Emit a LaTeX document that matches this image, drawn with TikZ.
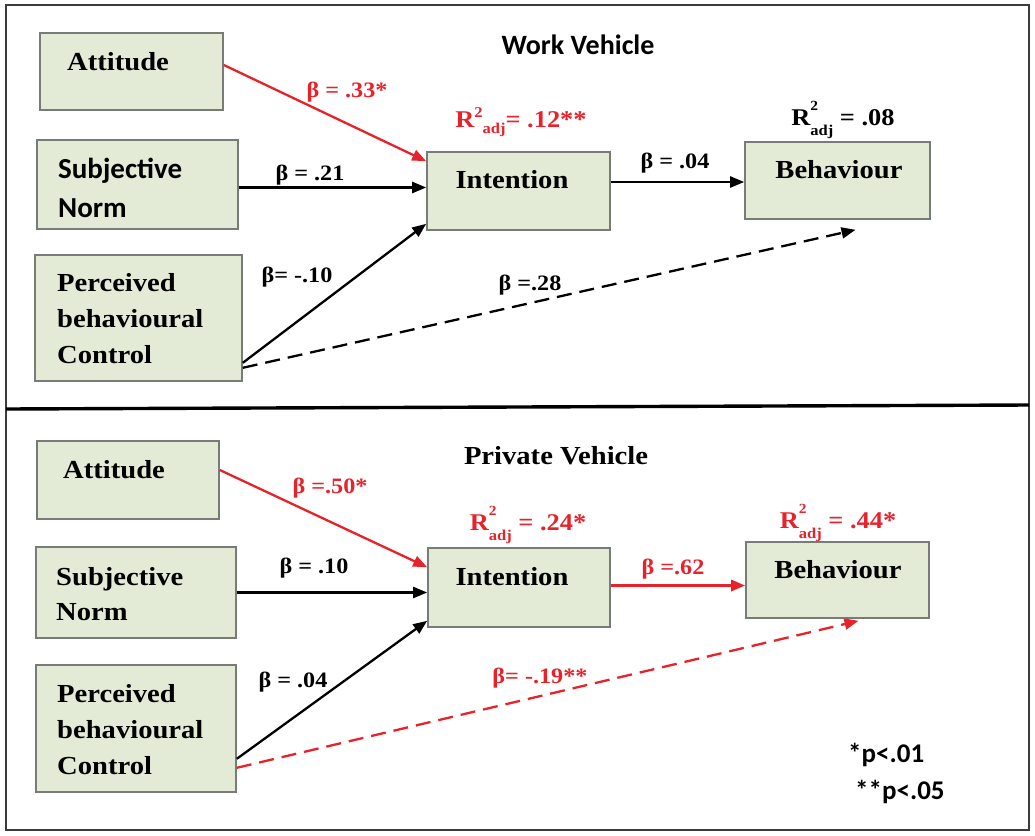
\documentclass[tikz,border=0pt]{standalone}
\usepackage{fontspec}
\setmainfont{Liberation Serif}[FakeStretch=1.1]
\newfontfamily\calib{Carlito}
\usetikzlibrary{arrows.meta,calc}
\definecolor{boxfill}{RGB}{227,235,215}
\definecolor{boxgray}{RGB}{120,124,118}
\definecolor{myred}{RGB}{232,34,42}
\definecolor{framegray}{RGB}{60,60,60}
\newcommand{\rsup}{\raisebox{0.62em}{\fontsize{14}{14}\selectfont 2}}
\newcommand{\rsupl}{\raisebox{0.42em}{\fontsize{15}{15}\selectfont 2}}
\newcommand{\rsub}{\raisebox{-0.42em}{\fontsize{15}{15}\selectfont adj}}
\newcommand{\rsubl}{\raisebox{-0.25em}{\fontsize{15}{15}\selectfont adj}}
\tikzset{
  box/.style={draw=boxgray, fill=boxfill, line width=1.6pt, rectangle, inner sep=0pt},
  boxtxt/.style={font=\fontsize{26}{36}\selectfont\bfseries, align=left, inner sep=0pt},
  sanstxt/.style={font=\calib\fontsize{29}{39}\selectfont\bfseries, align=left, inner sep=0pt},
  lbl/.style={font=\fontsize{22}{24}\selectfont\bfseries, inner sep=0pt},
  rlbl/.style={font=\fontsize{24}{26}\selectfont\bfseries, inner sep=0pt},
  conn/.style={line width=2.3pt, -{Triangle[length=14pt,width=11pt]}},
  rconn/.style={conn, draw=myred},
  dashconn/.style={conn, dash pattern=on 15pt off 8pt},
}
\begin{document}
\begin{tikzpicture}[x=1pt,y=-1pt]
\useasboundingbox (0,0) rectangle (1035,835);
\fill[white] (0,0) rectangle (1035,835);
% frame
\draw[framegray, line width=1.8pt] (6,5) rectangle (1029,830);
\draw[black, line width=3.4pt] (6,409) -- (1029,405);

% ---------- Work Vehicle ----------
\node[sanstxt, font=\calib\fontsize{28}{30}\selectfont\bfseries] (t1) at (578,45) {Work Vehicle};

\node[box, minimum width=183, minimum height=77] (att1) at (131.5,71.5) {};
\node[boxtxt, anchor=west] (att1t) at (67,62) {Attitude};
\node[box, minimum width=201, minimum height=89] (sn1) at (137.5,184.5) {};
\node[sanstxt, anchor=west] (sn1t) at (58,187.5) {Subjective\\Norm};
\node[box, minimum width=207, minimum height=126] (pbc1) at (138.5,318) {};
\node[boxtxt, anchor=west] (pbc1t) at (57,319) {Perceived\\behavioural\\Control};
\node[box, minimum width=183, minimum height=78] (int1) at (518.5,191) {};
\node[boxtxt] (int1t) at (512,180) {Intention};
\node[box, minimum width=185, minimum height=77] (beh1) at (837.5,180.5) {};
\node[boxtxt] (beh1t) at (839,170) {Behaviour};

\draw[rconn] ([yshift=6.5]att1.east) -- ([yshift=-10]int1.north west);
\draw[conn] ([yshift=-3]sn1.east) -- ([yshift=-3]sn1.east -| int1.west);
\draw[conn] ([yshift=19]pbc1.south east) -- ([yshift=7]int1.south west);
\draw[dashconn] ([yshift=14]pbc1.south east) -- ([xshift=18,yshift=-10]beh1.south);
\draw[conn] ([yshift=9]int1.east) -- ([yshift=9]int1.east -| beh1.west);

\node[lbl, text=myred] (b1) at (347,92) {β = .33*};
\node[lbl] (b2) at (310,175) {β = .21};
\node[lbl] (b3) at (297,277) {β= -.10};
\node[lbl] (b4) at (530,285) {β =.28};
\node[lbl] (b5) at (675,163) {β = .04};
\node[rlbl, text=myred] (r1) at (521,122) {R\rsupl\rsubl= .12**};
\node[rlbl] (r2) at (843,120) {R\rlap{\rsup}\rsub\ = .08};

% ---------- Private Vehicle ----------
\node[boxtxt] (t2) at (556,456) {Private Vehicle};

\node[box, minimum width=182, minimum height=78] (att2) at (128,480) {};
\node[boxtxt, anchor=west] (att2t) at (63,470) {Attitude};
\node[box, minimum width=200, minimum height=91] (sn2) at (136,592.5) {};
\node[boxtxt, anchor=west, font=\fontsize{26}{35}\selectfont\bfseries] (sn2t) at (56,594.5) {Subjective\\Norm};
\node[box, minimum width=200, minimum height=127] (pbc2) at (136,728.5) {};
\node[boxtxt, anchor=west] (pbc2t) at (57,730) {Perceived\\behavioural\\Control};
\node[box, minimum width=182, minimum height=79] (int2) at (519,587.5) {};
\node[boxtxt] (int2t) at (512,577) {Intention};
\node[box, minimum width=183, minimum height=76] (beh2) at (837.5,580) {};
\node[boxtxt] (beh2t) at (838,570) {Behaviour};

\draw[rconn] ([yshift=10]att2.east) -- ([yshift=-20]int2.north west);
\draw[conn] (sn2.east) -- (sn2.east -| int2.west);
\draw[conn] ([yshift=34]pbc2.south east) -- ([yshift=7]int2.south west);
\draw[rconn, dash pattern=on 15pt off 8pt] ([yshift=25]pbc2.south east) -- ([xshift=21,yshift=-2]beh2.south);
\draw[rconn, line width=3pt] ([yshift=2]int2.east) -- ([yshift=2]int2.east -| beh2.west);

\node[lbl, text=myred] (c1) at (330,488) {β =.50*};
\node[lbl] (c2) at (314,568) {β = .10};
\node[lbl] (c3) at (293,682) {β = .04};
\node[lbl, text=myred] (c4) at (540,678) {β= -.19**};
\node[lbl, text=myred] (c5) at (673,569) {β =.62};
\node[rlbl, text=myred] (r3) at (528,525) {R\rlap{\rsup}\rsub\ = .24*};
\node[rlbl, text=myred] (r4) at (838,523) {R\rlap{\rsup}\rsub\ = .44*};

\node[sanstxt, anchor=west, font=\calib\fontsize{27}{30}\selectfont\bfseries] (p1) at (848,755) {*p<.01};
\node[sanstxt, anchor=west, font=\calib\fontsize{27}{30}\selectfont\bfseries] (p2) at (855,792) {**p<.05};
\end{tikzpicture}
\end{document}
